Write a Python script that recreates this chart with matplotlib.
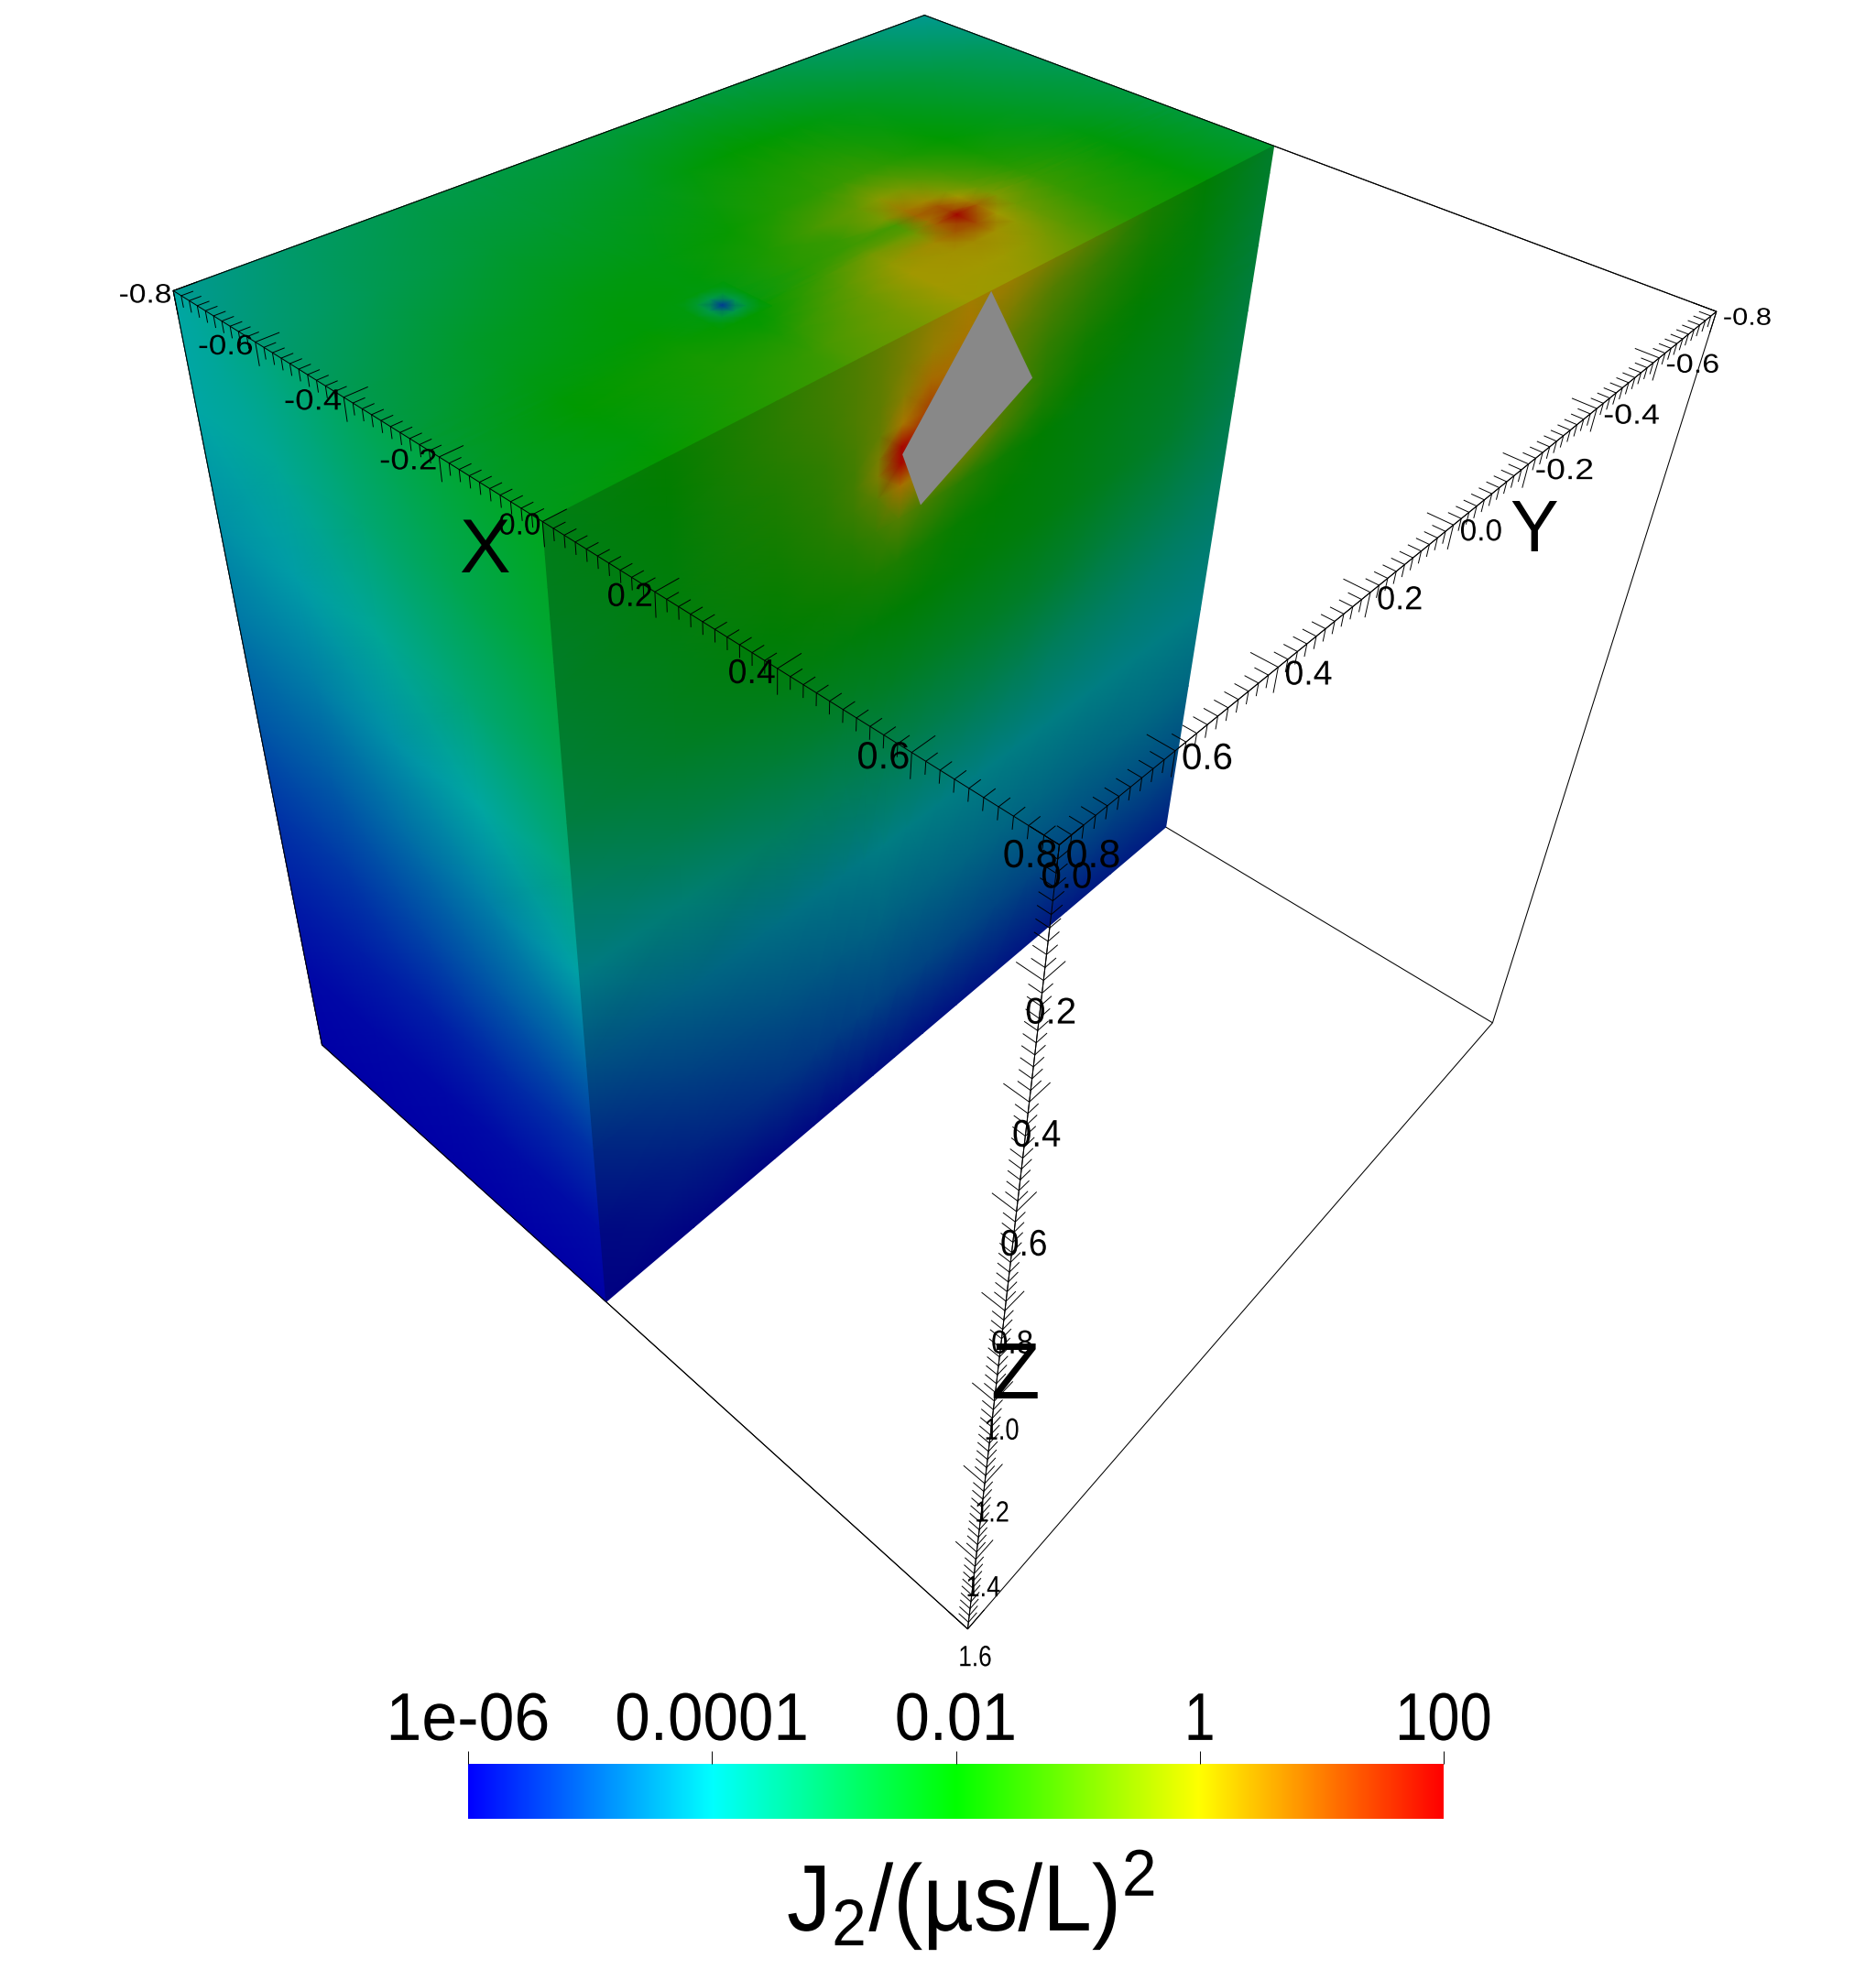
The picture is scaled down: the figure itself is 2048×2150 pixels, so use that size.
import matplotlib
matplotlib.use('Agg')
import matplotlib.pyplot as plt
import matplotlib.colors as colors
import matplotlib.patheffects as pe
from matplotlib.collections import LineCollection
from matplotlib.patches import Polygon
from matplotlib.transforms import Affine2D
import numpy as np

x_top = [-0.8, -0.6, -0.4, -0.32, -0.265, -0.24, -0.215, -0.2, -0.16, -0.12, -0.06, 0.0]
y_top = [0.8, 0.6, 0.4, 0.3, 0.27, 0.245, 0.1, 0.0, -0.1, -0.15, -0.2, -0.25, -0.3, -0.4, -0.6, -0.8]
top_values = [
    [-3.95, -3.35, -3.0, -2.95, -2.9, -2.88, -2.82, -2.78, -2.75, -2.75, -2.78, -2.82, -2.87, -3.0, -3.4, -3.85],
    [-3.55, -3.05, -2.7, -2.62, -2.6, -2.55, -2.4, -2.15, -2.0, -2.0, -2.05, -2.1, -2.2, -2.4, -2.85, -3.3],
    [-3.1, -2.55, -2.25, -2.2, -2.2, -2.2, -1.9, -1.6, -1.4, -1.3, -1.3, -1.45, -1.65, -2.0, -2.5, -2.95],
    [-2.95, -2.4, -2.1, -2.1, -2.15, -2.1, -1.65, -1.15, -0.75, -0.3, -0.5, -0.85, -1.2, -1.75, -2.35, -2.85],
    [-2.8, -2.25, -2.05, -2.2, -2.2, -2.2, -1.5, -1.3, -0.5, 0.45, 0.2, -0.4, -0.9, -1.55, -2.2, -2.8],
    [-2.75, -2.2, -1.95, -2.2, -2.2, -2.2, -1.5, -1.25, -1.1, 0.7, 0.85, 0.0, -0.7, -1.45, -2.15, -2.8],
    [-2.72, -2.12, -1.9, -2.15, -2.15, -2.15, -1.35, -0.9, -0.9, 0.5, 1.2, 0.4, -0.5, -1.35, -2.12, -2.77],
    [-2.7, -2.05, -1.85, -2.0, -2.0, -2.0, -1.2, -0.55, -0.6, 0.7, 1.95, 0.7, -0.4, -1.3, -2.1, -2.75],
    [-2.65, -2.0, -1.75, -1.85, -1.9, -1.8, -0.9, -0.2, 0.2, 0.8, 1.0, 0.0, -0.6, -1.3, -2.05, -2.72],
    [-2.55, -2.05, -1.7, -1.65, -1.65, -1.5, -0.7, 0.0, 0.1, 0.2, 0.1, -0.2, -0.7, -1.35, -2.05, -2.7],
    [-2.45, -2.1, -1.6, -1.4, -1.3, -1.15, -0.55, 0.0, 0.0, -0.05, -0.2, -0.5, -0.85, -1.45, -2.05, -2.68],
    [-2.35, -1.95, -1.5, -1.25, -1.15, -1.0, -0.5, -0.05, -0.1, -0.25, -0.5, -0.75, -1.0, -1.55, -2.05, -2.65],
]

# the small dip on the top face, drawn as a patch of its own
x_dip = [-0.29, -0.265, -0.24, -0.215, -0.19]
y_dip = [0.32, 0.295, 0.27, 0.245, 0.22]
dip_values = [
    [-2.12, -2.12, -2.14, -2.12, -2.1],
    [-2.15, -2.65, -3.0, -2.65, -2.1],
    [-2.18, -3.0, -5.3, -3.0, -2.1],
    [-2.1, -2.65, -3.0, -2.65, -2.05],
    [-1.95, -1.95, -1.95, -1.95, -1.9],
]

x_left = [-0.8, -0.6, -0.4, -0.2, 0.0]
z_left = [0.0, 0.2, 0.4, 0.6, 0.8, 1.0, 1.2, 1.4, 1.6]
left_values = [
    [-3.95, -4.0, -4.25, -4.55, -4.95, -5.35, -5.65, -5.9, -6.0],
    [-3.55, -3.8, -4.1, -4.5, -4.9, -5.3, -5.65, -5.9, -6.0],
    [-3.1, -3.4, -3.8, -4.25, -4.7, -5.15, -5.6, -5.9, -6.0],
    [-2.7, -3.0, -3.4, -3.95, -4.45, -4.95, -5.5, -5.85, -6.0],
    [-2.35, -2.6, -3.0, -3.5, -4.05, -4.75, -5.4, -5.85, -6.0],
]

y_right = [0.8, 0.6, 0.4, 0.3, 0.24, 0.19, 0.14, 0.08, 0.0, -0.1, -0.2, -0.3, -0.45, -0.6, -0.8]
z_right = [0.0, 0.05, 0.1, 0.15, 0.19, 0.22, 0.26, 0.32, 0.4, 0.5, 0.65, 0.8, 1.0, 1.2, 1.4, 1.6]
right_values = [
    [-2.35, -1.95, -1.5, -1.25, -1.05, -0.85, -0.6, -0.3, -0.05, -0.2, -0.6, -1.0, -1.7, -2.05, -2.65],
    [-2.4, -2.0, -1.5, -1.25, -1.05, -0.85, -0.55, -0.2, 0.1, -0.5, -1.0, -1.3, -1.75, -2.1, -2.7],
    [-2.45, -2.05, -1.55, -1.3, -1.05, -0.85, -0.4, 0.3, 0.2, -0.8, -1.2, -1.5, -1.85, -2.15, -2.75],
    [-2.5, -2.1, -1.65, -1.4, -1.15, -0.8, 0.1, 1.0, 0.5, -0.9, -1.4, -1.65, -1.95, -2.2, -2.8],
    [-2.55, -2.15, -1.7, -1.45, -1.2, -0.55, 1.9, 1.0, 0.5, -1.0, -1.5, -1.8, -2.05, -2.25, -2.85],
    [-2.6, -2.15, -1.75, -1.5, -1.2, -0.5, 1.9, 0.9, 0.3, -1.0, -1.55, -1.85, -2.1, -2.3, -2.85],
    [-2.6, -2.2, -1.8, -1.55, -1.3, -0.9, 0.2, -0.2, -0.5, -1.2, -1.7, -1.95, -2.2, -2.35, -2.9],
    [-2.7, -2.3, -1.9, -1.7, -1.55, -1.3, -1.0, -1.2, -1.5, -1.8, -2.0, -2.15, -2.3, -2.45, -2.95],
    [-2.8, -2.4, -2.05, -1.9, -1.8, -1.7, -1.65, -1.75, -1.9, -2.0, -2.1, -2.2, -2.4, -2.55, -3.0],
    [-3.0, -2.6, -2.3, -2.2, -2.15, -2.1, -2.05, -2.05, -2.1, -2.15, -2.2, -2.3, -2.5, -2.7, -3.1],
    [-3.55, -3.1, -2.85, -2.75, -2.7, -2.65, -2.6, -2.6, -2.6, -2.6, -2.65, -2.75, -2.95, -3.1, -3.35],
    [-4.05, -3.75, -3.45, -3.35, -3.3, -3.25, -3.2, -3.2, -3.2, -3.2, -3.25, -3.35, -3.45, -3.55, -3.65],
    [-4.75, -4.45, -4.25, -4.15, -4.1, -4.05, -4.0, -4.0, -4.0, -4.0, -4.0, -4.0, -4.0, -4.0, -4.0],
    [-5.4, -5.0, -4.7, -4.6, -4.55, -4.5, -4.45, -4.45, -4.42, -4.4, -4.4, -4.4, -4.4, -4.35, -4.35],
    [-5.85, -5.5, -5.2, -5.1, -5.05, -5.0, -4.95, -4.95, -4.92, -4.9, -4.9, -4.9, -4.85, -4.85, -4.8],
    [-6.0, -5.95, -5.9, -5.85, -5.85, -5.8, -5.8, -5.75, -5.75, -5.7, -5.65, -5.65, -5.6, -5.55, -5.5],
]

# grey crack section in the x=0 plane
fault_y = [-0.046, -0.167, 0.09, 0.138]
fault_z = [0.0, 0.199, 0.318, 0.204]

x_tick_labels = ['-0.8', '-0.6', '-0.4', '-0.2', '0.0', '0.2', '0.4', '0.6', '0.8']
y_tick_labels = ['-0.8', '-0.6', '-0.4', '-0.2', '0.0', '0.2', '0.4', '0.6', '0.8']
z_tick_labels = ['0.0', '0.2', '0.4', '0.6', '0.8', '1.0', '1.2', '1.4', '1.6']
x_label_size = [21, 22, 23, 23, 24, 26, 27, 30, 31]
y_label_size = [19, 21, 22, 23, 24, 26, 27, 29, 31]
z_label_size = [29, 29, 30, 29, 26, 24, 23, 23, 23]
z_label_dy = [32, 32, 33, 33, 33, 30, 30, 29, 29]
z_label_sx = [1.0, 1.0, 0.92, 0.92, 0.92, 0.82, 0.85, 0.85, 0.82]

bar_ticks = [-6, -4, -2, 0, 2]
bar_labels = ['1e-06', '0.0001', '0.01', '1', '100']
bar_label_sx = [0.95, 0.94, 0.93, 0.82, 0.86]

# box corners and where they land on the picture, used to fit the camera
corner_world = [(-0.8, 0.8, 0), (-0.8, -0.8, 0), (0.8, -0.8, 0), (0.8, 0.8, 0),
                (-0.8, 0.8, 1.6), (0.8, 0.8, 1.6), (0.8, -0.8, 1.6),
                (0, 0.8, 0), (0, -0.8, 0), (0, -0.8, 1.6), (0, 0.8, 1.6)]
corner_px = [(188, 319), (1010, 16), (1874, 340), (1155, 920),
             (351, 1140), (1057, 1780), (1629, 1117),
             (593, 570), (1391, 160), (1272, 903), (663, 1421)]


def fit_camera(world, px):
    rows, rhs = [], []
    for (x, y, z), (u, v) in zip(world, px):
        rows.append([x, y, z, 1, 0, 0, 0, 0, -u*x, -u*y, -u*z])
        rhs.append(u)
        rows.append([0, 0, 0, 0, x, y, z, 1, -v*x, -v*y, -v*z])
        rhs.append(v)
    p = np.linalg.lstsq(np.array(rows, float), np.array(rhs, float), rcond=None)[0]
    return np.append(p, 1.0).reshape(3, 4)


cam = fit_camera(corner_world, corner_px)


def project(x, y, z):
    x, y, z = np.broadcast_arrays(np.asarray(x, float), np.asarray(y, float), np.asarray(z, float))
    w = cam[2, 0]*x + cam[2, 1]*y + cam[2, 2]*z + cam[2, 3]
    u = (cam[0, 0]*x + cam[0, 1]*y + cam[0, 2]*z + cam[0, 3]) / w
    v = (cam[1, 0]*x + cam[1, 1]*y + cam[1, 2]*z + cam[1, 3]) / w
    return u, v


# squeezes or widens the glyphs of a text sideways around a pixel column
class Squeeze(pe.AbstractPathEffect):
    def __init__(self, cx, sx):
        super().__init__()
        self.cx = cx
        self.sx = sx

    def draw_path(self, renderer, gc, tpath, affine, rgbFace=None):
        t = affine + Affine2D().translate(-self.cx, 0).scale(self.sx, 1).translate(self.cx, 0)
        renderer.draw_path(gc, tpath, t, rgbFace)


rainbow = colors.LinearSegmentedColormap.from_list('rb', ['#0000ff', '#00ffff', '#00ff00', '#ffff00', '#ff0000'], N=512)
norm = colors.Normalize(-6, 2)


def shaded(r, g, b):
    c = rainbow(np.linspace(0, 1, 512)).copy()
    c[:, 0] *= r
    c[:, 1] *= g
    c[:, 2] *= b
    return colors.ListedColormap(c)


plt.rcParams['font.family'] = ['Liberation Sans']
plt.rcParams['mathtext.default'] = 'regular'
fig = plt.figure(figsize=(20.48, 21.5), dpi=100)
ax = fig.add_axes([0, 0, 1, 1])
ax.set_xlim(0, 2048)
ax.set_ylim(2150, 0)
ax.axis('off')

# wire box first, the solid covers the hidden part
box = [(-0.8, 0.8), (-0.8, -0.8), (0.8, -0.8), (0.8, 0.8)]
segs = []
for i in range(4):
    a, b = box[i], box[(i+1) % 4]
    for zz in (0, 1.6):
        u, v = project([a[0], b[0]], [a[1], b[1]], [zz, zz])
        segs.append(np.column_stack([u, v]))
    u, v = project([a[0], a[0]], [a[1], a[1]], [0, 1.6])
    segs.append(np.column_stack([u, v]))
ax.add_collection(LineCollection(segs, colors='k', linewidths=0.75, zorder=1))

# faces
X, Y = np.meshgrid(x_left, z_left, indexing='ij')
u, v = project(X, 0.8, Y)
ax.pcolormesh(u, v, np.array(left_values), shading='gouraud', cmap=shaded(0.65, 0.65, 0.65), norm=norm, zorder=2)

top_cmap = shaded(0.63, 0.6, 0.6)
X, Y = np.meshgrid(x_top, y_top, indexing='ij')
u, v = project(X, Y, 0)
ax.pcolormesh(u, v, np.array(top_values), shading='gouraud', cmap=top_cmap, norm=norm, zorder=2)

X, Y = np.meshgrid(x_dip, y_dip, indexing='ij')
u, v = project(X, Y, 0)
ax.pcolormesh(u, v, np.array(dip_values), shading='gouraud', cmap=top_cmap, norm=norm, zorder=2.1)

Z, Y = np.meshgrid(z_right, y_right, indexing='ij')
u, v = project(0, Y, Z)
ax.pcolormesh(u, v, np.array(right_values), shading='gouraud', cmap=shaded(0.65, 0.49, 0.51), norm=norm, zorder=2)

u, v = project(0, fault_y, fault_z)
ax.add_patch(Polygon(np.column_stack([u, v]), closed=True, facecolor='#888888', edgecolor='none', zorder=3))

# edges that sit on top of the solid
for p, q in [((-0.8, 0.8, 0), (-0.8, -0.8, 0)), ((-0.8, -0.8, 0), (0.8, -0.8, 0)),
             ((-0.8, 0.8, 0), (-0.8, 0.8, 1.6)), ((-0.8, 0.8, 1.6), (0.8, 0.8, 1.6))]:
    u, v = project([p[0], q[0]], [p[1], q[1]], [p[2], q[2]])
    ax.plot(u, v, color='k', lw=0.75, zorder=4)


def tick_segments(axis, lo, hi):
    # every 0.02 a small cross, every 0.2 a long one
    n = int(round((hi-lo)/0.02))
    segs = []
    for i in range(n+1):
        t = lo + i*0.02
        L = 0.038 if i % 10 == 0 else 0.019
        if axis == 'x':
            base = (t, 0.8, 0)
            ends = [(t, 0.8-L, 0), (t, 0.8, L)]
        elif axis == 'y':
            base = (0.8, t, 0)
            ends = [(0.8-L, t, 0), (0.8, t, L)]
        else:
            base = (0.8, 0.8, t)
            ends = [(0.8-L, 0.8, t), (0.8, 0.8-L, t)]
        for e in ends:
            u, v = project([base[0], e[0]], [base[1], e[1]], [base[2], e[2]])
            segs.append(np.column_stack([u, v]))
    return segs


segs = tick_segments('x', -0.8, 0.8) + tick_segments('y', -0.8, 0.8) + tick_segments('z', 0, 1.6)
for p, q in [((-0.8, 0.8, 0), (0.8, 0.8, 0)), ((0.8, -0.8, 0), (0.8, 0.8, 0)), ((0.8, 0.8, 0), (0.8, 0.8, 1.6))]:
    u, v = project([p[0], q[0]], [p[1], q[1]], [p[2], q[2]])
    segs.append(np.column_stack([u, v]))
ax.add_collection(LineCollection(segs, colors='k', linewidths=0.7, zorder=5))

# tick labels
for i, lab in enumerate(x_tick_labels):
    u, v = project(-0.8 + 0.2*i, 0.8, 0)
    dy = 9 if lab == '0.8' else 2
    sx = 1.15 if lab[0] == '-' else 1.0
    ax.text(u-2, v+dy, lab, ha='right', va='center_baseline', fontsize=x_label_size[i], zorder=6,
            path_effects=[Squeeze(float(u-2), sx)])
for i, lab in enumerate(y_tick_labels):
    u, v = project(0.8, -0.8 + 0.2*i, 0)
    dy = 9 if lab == '0.8' else 5
    sx = 1.17 if lab[0] == '-' else 1.0
    ax.text(u+7, v+dy, lab, ha='left', va='center_baseline', fontsize=y_label_size[i], zorder=6,
            path_effects=[Squeeze(float(u+7), sx)])
for i, lab in enumerate(z_tick_labels):
    u, v = project(0.8, 0.8, 0.2*i)
    ax.text(u+8, v+z_label_dy[i], lab, ha='center', va='center_baseline', fontsize=z_label_size[i], zorder=6,
            path_effects=[Squeeze(float(u+8), z_label_sx[i])])

ax.text(529, 625, 'X', ha='center', va='baseline', fontsize=60, zorder=6)
ax.text(1675, 602, 'Y', ha='center', va='baseline', fontsize=57, zorder=6)
ax.text(1108, 1527, 'Z', ha='center', va='baseline', fontsize=63, zorder=6)

# colour bar
cax = fig.add_axes([511/2048, 1-1986/2150, 1065/2048, 60/2150])
cax.imshow(np.linspace(-6, 2, 512)[None, :], aspect='auto', cmap=rainbow, norm=norm,
           extent=[-6, 2, 0, 1], interpolation='bilinear')
cax.set_yticks([])
cax.set_xticks(bar_ticks)
cax.set_xticklabels(bar_labels, fontsize=53)
cax.xaxis.tick_top()
cax.tick_params(axis='x', length=10, width=0.7, pad=-2)
for t, lbl, sx in zip(bar_ticks, cax.get_xticklabels(), bar_label_sx):
    lbl.set_path_effects([Squeeze(511 + (t+6)/8*1065, sx)])
for s in cax.spines.values():
    s.set_visible(False)

ax.text(1060, 2108, 'J$_{2}$/(µs/L)$^{2}$', ha='center', va='baseline', fontsize=74, zorder=6,
        path_effects=[Squeeze(1060, 0.94)])

plt.savefig('out.png', dpi=100)
plt.close(fig)
